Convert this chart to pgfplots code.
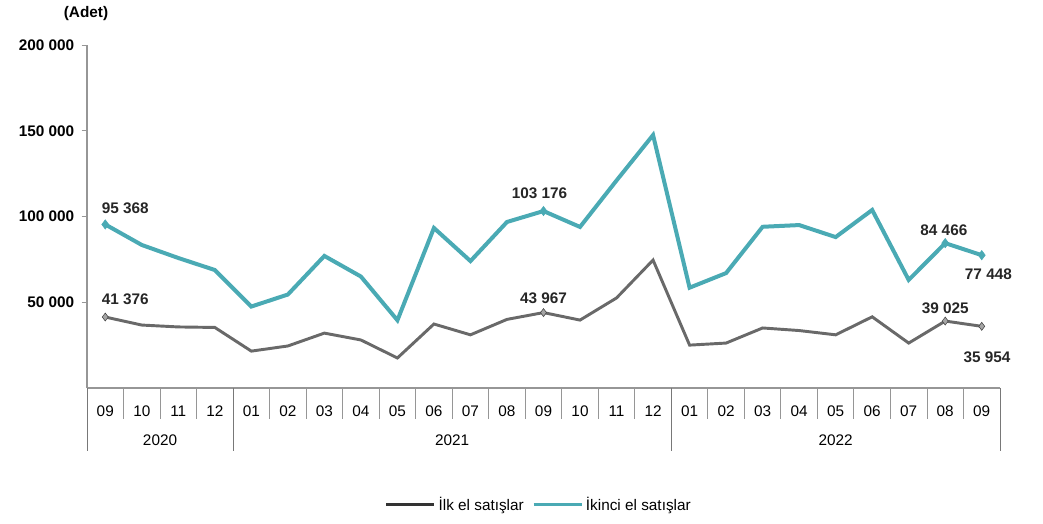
\documentclass[border=0pt]{standalone}
\usepackage{fontspec}
\setmainfont{Liberation Sans}
\usepackage{pgfplots}
\usepackage{pgfplotstable}
\pgfplotsset{compat=1.18}
\definecolor{tealc}{RGB}{74,170,180}
\definecolor{grayc}{RGB}{105,105,105}
\definecolor{axgray}{RGB}{150,150,150}

\pgfplotstableread{
x y
0 95368
1 83400
2 75800
3 68800
4 47500
5 54500
6 77000
7 65000
8 39500
9 93300
10 74000
11 96800
12 103176
13 93900
14 121000
15 147500
16 58500
17 67000
18 94000
19 95000
20 88000
21 103800
22 63000
23 84466
24 77448
}\ikinci

\pgfplotstableread{
x y
0 41376
1 36700
2 35600
3 35300
4 21500
5 24500
6 32000
7 28000
8 17500
9 37300
10 31000
11 40000
12 43967
13 39600
14 52500
15 74600
16 25000
17 26200
18 35000
19 33500
20 31000
21 41500
22 26200
23 39025
24 35954
}\ilk

\pgfplotstableread{
x y lab dx dy
0 95368 {95 368} 15 12
12 103176 {103 176} -3 13
23 84466 {84 466} -1 10
24 77448 {77 448} 5 -14
}\ikinciLab

\pgfplotstableread{
x y lab dx dy
0 41376 {41 376} 15 13
12 43967 {43 967} 0 11
23 39025 {39 025} 0 10
24 35954 {35 954} 4 -23
}\ilkLab

\newcommand{\fs}{\fontsize{11.5pt}{13pt}\selectfont}

\begin{document}
\begin{tikzpicture}
\path[use as bounding box] (0pt,0pt) rectangle (782.25pt,393pt);
\node[font=\bfseries\fs, anchor=center] at (64.5pt,382.5pt) {(Adet)};
\begin{axis}[
  at={(65.25pt,102pt)}, anchor=south west,
  scale only axis, width=684.75pt, height=257.25pt,
  xmin=-0.5, xmax=24.5, ymin=0, ymax=200000,
  axis lines=left, axis line style={-, draw=axgray, line width=0.8pt},
  clip=false,
  scaled y ticks=false,
  xtick={0,...,24},
  xticklabels={09,10,11,12,01,02,03,04,05,06,07,08,09,10,11,12,01,02,03,04,05,06,07,08,09},
  x tick style={draw=none},
  x tick label style={font=\fs, yshift=-6pt},
  ytick={50000,100000,150000,200000},
  yticklabels={50 000,100 000,150 000,200 000},
  y tick style={draw=axgray, line width=0.6pt},
  tick align=outside, major tick length=4pt,
  y tick label style={font=\bfseries\fs, xshift=-2pt},
  legend style={at={(0.495,-0.34)}, anchor=center, draw=none, fill=none,
    font=\fs, legend columns=2,
    /tikz/every even column/.append style={column sep=4pt}},
  legend cell align=left,
  legend image code/.code={\draw[#1, line width=2.6pt] (0pt,0pt) -- (36pt,0pt);},
]
\addplot[grayc, line width=2.2pt, mark=none, legend image post style={draw=black!80}] table[x=x,y=y]{\ilk};
\addlegendentry{İlk el satışlar}
\addplot[tealc, line width=3pt, mark=none] table[x=x,y=y]{\ikinci};
\addlegendentry{İkinci el satışlar}

\addplot[forget plot, only marks, mark=diamond*, mark size=3.5pt, tealc,
  nodes near coords, point meta=explicit symbolic,
  visualization depends on={\thisrow{dx}\as\dx},
  visualization depends on={\thisrow{dy}\as\dy},
  every node near coord/.append style={anchor=center, xshift=\dx pt, yshift=\dy pt, font=\bfseries\fs, text=black!85}]
  table[x=x,y=y,meta=lab]{\ikinciLab};
\addplot[forget plot, only marks, mark=diamond*, mark size=3pt, draw=black!75, fill=grayc!60,
  nodes near coords, point meta=explicit symbolic,
  visualization depends on={\thisrow{dx}\as\dx},
  visualization depends on={\thisrow{dy}\as\dy},
  every node near coord/.append style={anchor=center, xshift=\dx pt, yshift=\dy pt, font=\bfseries\fs, text=black!85}]
  table[x=x,y=y,meta=lab]{\ilkLab};

\pgfplotsinvokeforeach{0.5,1.5,2.5,4.5,5.5,6.5,7.5,8.5,9.5,10.5,11.5,12.5,13.5,14.5,16.5,17.5,18.5,19.5,20.5,21.5,22.5,23.5}{
  \draw[axgray, line width=0.7pt] (axis cs:#1,0) -- ++(0pt,-23pt);
}
\pgfplotsinvokeforeach{-0.5,3.5,15.5,24.5}{
  \draw[axgray!80!black, line width=0.7pt] (axis cs:#1,0) -- ++(0pt,-47pt);
}
\node[font=\fs] at (axis cs:1.5,0) [yshift=-39pt] {2020};
\node[font=\fs] at (axis cs:9.5,0) [yshift=-39pt] {2021};
\node[font=\fs] at (axis cs:20,0) [yshift=-39pt] {2022};
\end{axis}
\end{tikzpicture}
\end{document}
